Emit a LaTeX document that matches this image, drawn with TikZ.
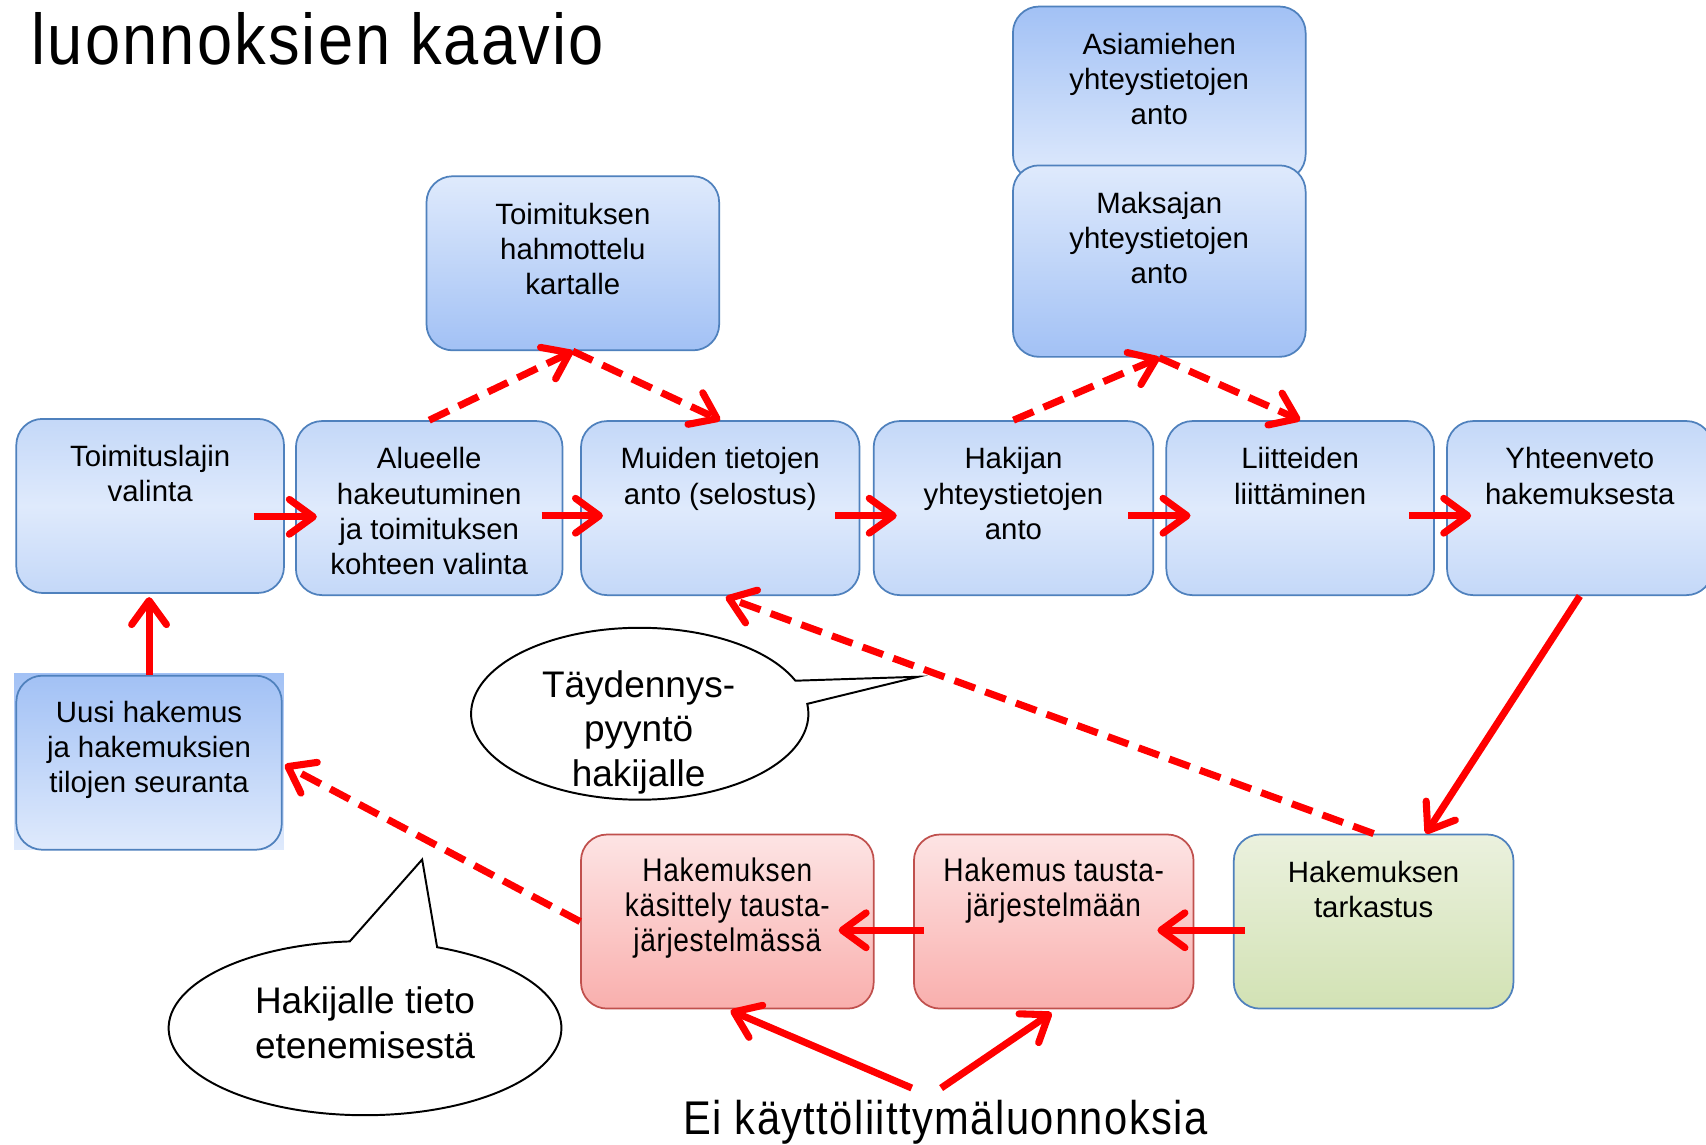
\documentclass[tikz,border=0pt]{standalone}
\usepackage{fontspec}
\setmainfont{Liberation Sans}
\newfontfamily\narrowfont[FakeStretch=0.88,LetterSpace=3]{Liberation Sans}
\newfontfamily\boxnarrow[FakeStretch=0.86,LetterSpace=2]{Liberation Sans}
\usetikzlibrary{arrows.meta,shapes.callouts,calc}
\definecolor{bborder}{HTML}{4F81BD}
\definecolor{blight}{HTML}{DFEAFC}
\definecolor{bmid}{HTML}{C4D8F8}
\definecolor{bdark}{HTML}{A2C1F5}
\definecolor{rtop}{HTML}{FDE4E4}
\definecolor{rbot}{HTML}{F9AFAD}
\definecolor{rborder}{HTML}{C0504D}
\definecolor{gtop}{HTML}{EBF1DE}
\definecolor{gbot}{HTML}{D2E2B4}
\definecolor{arrred}{HTML}{FF0000}
\begin{document}
\begin{tikzpicture}[x=1pt,y=-1pt,
  box/.style={draw=bborder, line width=1.6pt, rounded corners=24pt, inner sep=0pt},
  sz/.style 2 args={minimum width=#1pt, minimum height=#2pt},
  shA/.style={top color=bmid, bottom color=bmid, middle color=blight},
  shB/.style={top color=blight, bottom color=bdark},
  shC/.style={top color=bdark, bottom color=blight},
  shR/.style={top color=rtop, bottom color=rbot, draw=rborder},
  shG/.style={top color=gtop, bottom color=gbot},
  txt/.style={anchor=north, align=center, inner sep=0pt, font=\fontsize{27}{32.4}\selectfont},
  rtxt/.style={txt, font=\boxnarrow\fontsize{30}{32.4}\selectfont},
  ctxt/.style={align=center, inner sep=0pt, font=\fontsize{34}{41}\selectfont},
  callout/.style={ellipse callout, draw=black, fill=white, line width=1.8pt, inner sep=0pt},
  arr/.style={draw=arrred, line width=6.5pt, -{Straight Barb[length=22pt,width=32pt,round]}},
  darr/.style={arr, dash pattern=on 20pt off 10pt},
]
\clip (0,0) rectangle (1568,1052);
\fill[white] (0,0) rectangle (1568,1052);

% title
\node[anchor=base west, inner sep=0pt, font=\narrowfont\fontsize{66}{70}\selectfont] (title) at (29,59) {luonnoksien kaavio};

% row boxes
\node[box, shA, sz={246}{160}] (b1) at (138,465) {};
\node[box, shA, sz={245}{160}] (b2) at (394.5,467) {};
\node[box, shA, sz={256}{160}] (b3) at (662,467) {};
\node[box, shA, sz={257}{160}] (b4) at (931.5,467) {};
\node[box, shA, sz={246}{160}] (b5) at (1195,467) {};
\node[box, shA, sz={244}{160}] (b6) at (1452,467) {};
% upper boxes
\node[box, shB, sz={269}{160}] (tk) at (526.5,242) {};
\node[box, shC, sz={269}{160}] (as) at (1065.5,86) {};
\node[box, shB, sz={269}{176}] (ma) at (1065.5,240) {};
% left lower box
\node[shC, sz={248}{162}, inner sep=0pt] (ubg) at (137,700) {};
\node[box, shC, sz={244}{160}] (u) at (137,701) {};
% bottom row
\node[box, shR, sz={269}{160}] (r1) at (668.5,847) {};
\node[box, shR, sz={257}{160}] (r2) at (968.5,847) {};
\node[box, shG, sz={257}{160}] (g) at (1262.5,847) {};

% texts
\node[txt] (tb1) at ($(b1.north)+(0,25)$) {Toimituslajin\\valinta};
\node[txt] (tb2) at ($(b2.north)+(0,25)$) {Alueelle\\hakeutuminen\\ja toimituksen\\kohteen valinta};
\node[txt] (tb3) at ($(b3.north)+(0,25)$) {Muiden tietojen\\anto (selostus)};
\node[txt] (tb4) at ($(b4.north)+(0,25)$) {Hakijan\\yhteystietojen\\anto};
\node[txt] (tb5) at ($(b5.north)+(0,25)$) {Liitteiden\\liittäminen};
\node[txt] (tb6) at ($(b6.north)+(0,25)$) {Yhteenveto\\hakemuksesta};
\node[txt] (ttk) at ($(tk.north)+(0,25)$) {Toimituksen\\hahmottelu\\kartalle};
\node[txt] (tas) at ($(as.north)+(0,25)$) {Asiamiehen\\yhteystietojen\\anto};
\node[txt] (tma) at ($(ma.north)+(0,25)$) {Maksajan\\yhteystietojen\\anto};
\node[txt] (tu) at ($(u.north)+(0,24)$) {Uusi hakemus\\ja hakemuksien\\tilojen seuranta};
\node[rtxt] (tr1) at ($(r1.north)+(0,22)$) {Hakemuksen\\käsittely tausta-\\järjestelmässä};
\node[rtxt] (tr2) at ($(r2.north)+(0,22)$) {Hakemus tausta-\\järjestelmään};
\node[txt] (tg) at ($(g.north)+(0,25)$) {Hakemuksen\\tarkastus};

% callouts
\node[callout, sz={310}{158}, callout absolute pointer={(844,622)}, callout pointer arc=16] (c1) at (588,656) {};
\node[ctxt] (tc1) at (587,673) {Täydennys-\\pyyntö\\hakijalle};
\node[callout, sz={361}{160}, callout absolute pointer={(388,790)}, callout pointer arc=26] (c2) at (335.5,945) {};
\node[ctxt] (tc2) at (335.5,940) {Hakijalle tieto\\etenemisestä};

% bottom label
\node[anchor=base west, inner sep=0pt, font=\narrowfont\fontsize{43.5}{46}\selectfont] (ei) at (628,1043) {Ei käyttöliittymäluonnoksia};
\coordinate (e1) at (838,1000);
\coordinate (e2) at (865,1000);

% solid arrows
\draw[arr] ($(b1.east)+(-28,10)$) -- ($(b2.west)+(20,8)$);
\draw[arr] ($(b2.east)+(-20,7)$) -- ($(b3.west)+(21,7)$);
\draw[arr] ($(b3.east)+(-23,7)$) -- ($(b4.west)+(22,7)$);
\draw[arr] ($(b4.east)+(-24,7)$) -- ($(b5.west)+(23,7)$);
\draw[arr] ($(b5.east)+(-24,7)$) -- ($(b6.west)+(23,7)$);
\draw[arr] (u.north) -- ($(b1.south)+(-1,3)$);
\draw[arr] (b6.south) -- ($(g.north)+(48,0)$);
\draw[arr] ($(g.west)+(11,8)$) -- ($(r2.east)+(-34,8)$);
\draw[arr] ($(r2.west)+(10,8)$) -- ($(r1.east)+(-33,8)$);
\draw[arr] (e1) -- ($(r1.south)+(3,1)$);
\draw[arr] (e2) -- ($(r2.south)+(-2,3)$);

% dashed arrows
\draw[darr] (b2.north) -- (tk.south);
\draw[darr] (tk.south) -- (b3.north);
\draw[darr] (b4.north) -- (ma.south);
\draw[darr] (ma.south) -- (b5.north);
\draw[darr] (g.north) -- ($(b3.south)+(5,1)$);
\draw[darr] (r1.west) -- ($(u.east)+(2,2)$);
\end{tikzpicture}
\end{document}
